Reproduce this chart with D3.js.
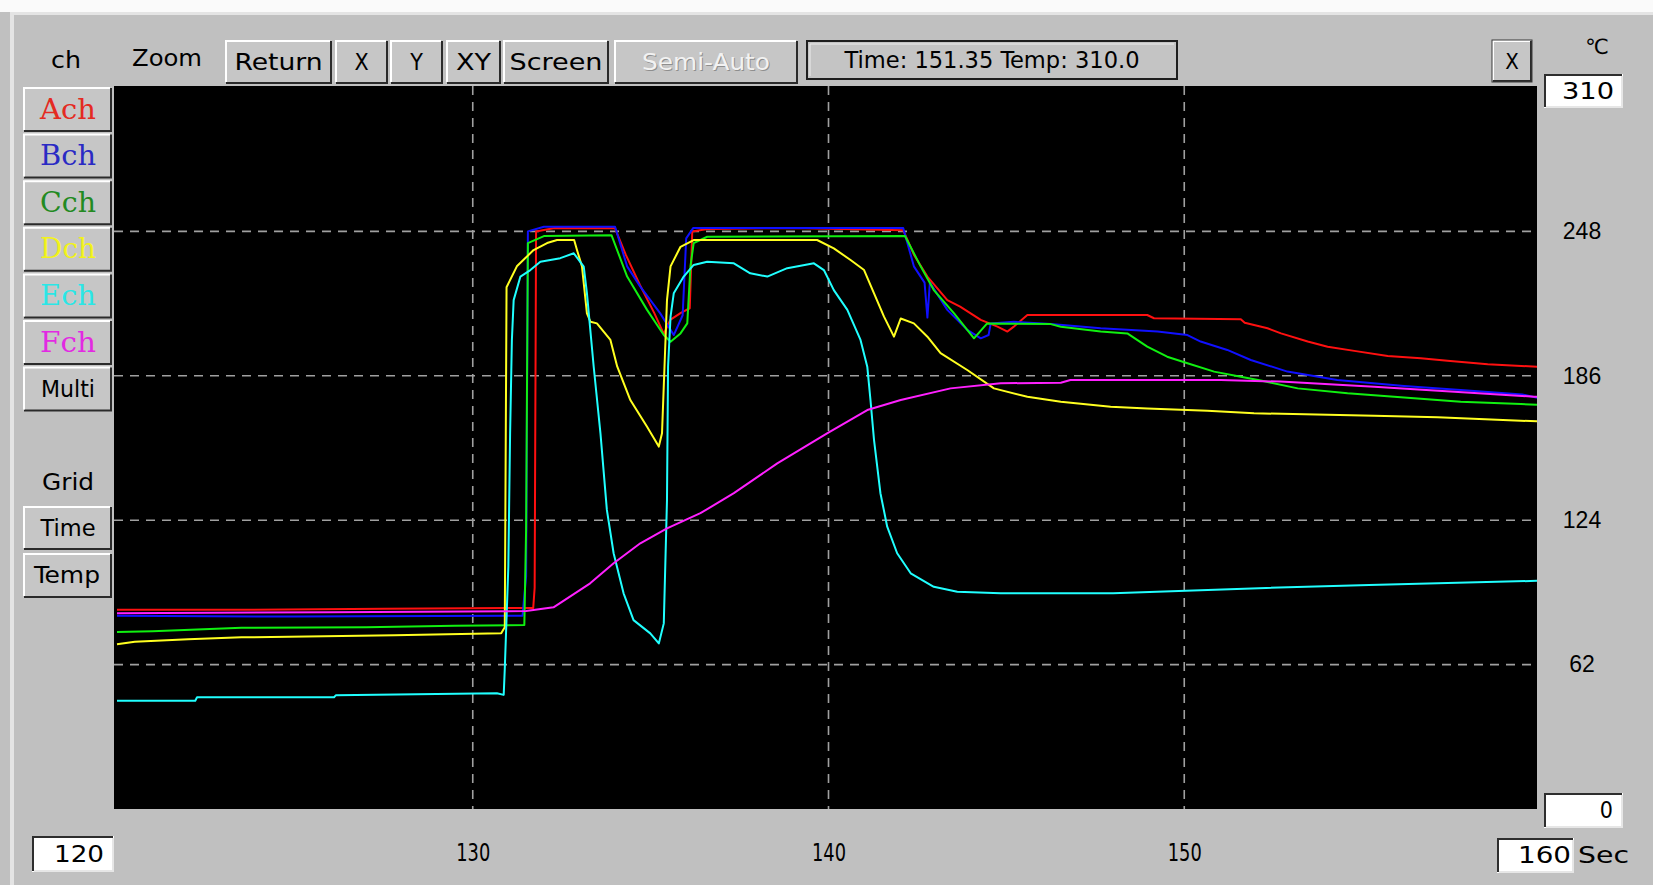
<!DOCTYPE html>
<html>
<head>
<meta charset="utf-8">
<script src="https://cdn.jsdelivr.net/npm/d3@7"></script>
<style>
  html, body { margin: 0; padding: 0; background: #c0c0c0; overflow: hidden; }
  text { font-family: "Liberation Sans Narrow", "DejaVu Sans Condensed", "Liberation Sans", sans-serif; }
</style>
</head>
<body>
<div id="chart"></div>
<script>
const channels = ['Ach', 'Bch', 'Cch', 'Dch', 'Ech', 'Fch'];
const lineColors = ['#ff1010', '#1010ff', '#10f010', '#ffff20', '#20ffff', '#ff20ff'];
const labelColors = ['#e42a22', '#2a2ac4', '#228a22', '#f2f21a', '#2ae6e6', '#e22ae2'];
const timeTicks = [130, 140, 150];
const tempTicks = [62, 124, 186, 248];
const timeRange = [120, 160];
const tempRange = [0, 310];
const infoText = 'Time: 151.35 Temp: 310.0';

// [time (s), temp (C)]
const achData = [[120, 85.5], [123, 85.5], [127.5, 86], [131.7, 86.3], [131.74, 95], [131.78, 248], [132.3, 249.5],
  [134.0, 249.3], [134.3, 238], [134.7, 225], [135.1, 213], [135.37, 204], [135.55, 210], [135.85, 213], [136.1, 215],
  [136.17, 248], [136.6, 249], [139, 249.5], [142.1, 248.5], [142.4, 238], [142.78, 228.6], [143.34, 218.5],
  [143.7, 215.7], [144.28, 210], [144.75, 207.1], [145.03, 205], [145.2, 207], [145.59, 212.1], [148.96, 212.1],
  [149.15, 210.7], [151.59, 210.3], [151.7, 208.8], [152.34, 206.4], [152.72, 204.2], [153.47, 200.7], [154.03, 198.5],
  [154.78, 196.7], [155.72, 194.5], [156.65, 193.5], [157.4, 192.5], [158.53, 191], [160, 189.8]];

const bchData = [[120, 83], [125, 82.6], [131.4, 83], [131.5, 100], [131.55, 248], [132.0, 250], [134.0, 250],
  [134.34, 233], [134.71, 224.3], [135.27, 212.8], [135.65, 203.5], [135.9, 212], [136.0, 245], [136.2, 249.5],
  [142.1, 249.5], [142.4, 233], [142.7, 226], [142.78, 211], [142.85, 226], [143.34, 214.3], [143.9, 205.7],
  [144.28, 202.1], [144.5, 203.5], [144.56, 208.5], [145.21, 209.2], [146.25, 208.2], [147.65, 206.4], [149.25, 205],
  [150.09, 203.5], [150.46, 200.7], [151.21, 197.1], [151.87, 192.8], [152.9, 187.8], [154.3, 184.2], [156.18, 181.6],
  [157.77, 179.9], [159.5, 178], [160, 176.3]];

const cchData = [[120, 76], [121, 76.3], [123.5, 77.8], [127, 78], [129.5, 78.7], [131.45, 79], [131.5, 120],
  [131.55, 243], [132.0, 246], [133.9, 246.4], [134.34, 228.6], [134.9, 214.3], [135.37, 203.5], [135.56, 200.6],
  [135.84, 204.2], [136.03, 208.5], [136.12, 233], [136.21, 243], [136.59, 245.7], [142.15, 246], [142.59, 233],
  [142.96, 222.8], [143.53, 212.8], [144.09, 202.1], [144.46, 208.5], [146.25, 208.2], [146.53, 207.1], [147.65, 205],
  [148.4, 204.2], [148.96, 198.5], [149.52, 194.2], [150.09, 191.4], [150.84, 187.8], [151.59, 185.6], [152.15, 184],
  [153.19, 180.6], [154.59, 178.5], [155.9, 177], [157.77, 174.9], [159.46, 173.9], [160, 173.5]];

const dchData = [[120, 70.7], [120.5, 71.8], [122, 72.9], [123.5, 73.7], [127.8, 74.6], [130.8, 75.5], [130.9, 78],
  [130.95, 224], [131.24, 233], [131.71, 240], [132.09, 243], [132.37, 244.3], [132.85, 244.3], [132.93, 240],
  [133.07, 233], [133.21, 212.8], [133.31, 209.2], [133.49, 208.5], [133.87, 201.4], [134.06, 190], [134.43, 175.6],
  [134.9, 164.1], [135.23, 155.6], [135.32, 161.3], [135.46, 218.5], [135.56, 233], [135.84, 241.4], [136.21, 244.3],
  [139.68, 244.3], [140.15, 240.7], [140.62, 235.7], [141.0, 231.4], [141.28, 221.4], [141.56, 211.4], [141.84, 202.8],
  [142.03, 210.6], [142.4, 208.5], [142.78, 202.8], [143.15, 195.7], [143.9, 188.5], [144.65, 180.6], [145.59, 177],
  [146.53, 174.9], [147.93, 172.7], [148.96, 172], [150.65, 171], [151.96, 169.9], [155.34, 168.9], [157.12, 168.2],
  [159.46, 166.7], [160, 166.5]];

const echData = [[120, 46.5], [122.2, 46.5], [122.25, 48], [126.1, 48], [126.15, 48.8], [130.68, 49.7], [130.87, 49],
  [130.9, 60], [131.0, 104], [131.05, 161.3], [131.1, 201.4], [131.15, 218.5], [131.34, 228.6], [131.62, 231.4],
  [131.9, 235], [132.46, 236.5], [132.84, 238.6], [133.12, 232.9], [133.21, 221.4], [133.4, 189.9], [133.59, 161.3],
  [133.77, 128.4], [133.96, 109.8], [134.24, 92.6], [134.52, 81.1], [134.99, 75.4], [135.23, 71.1], [135.37, 79.7],
  [135.46, 132.7], [135.49, 189.9], [135.56, 211.4], [135.65, 221.4], [135.93, 228.6], [136.21, 233.6], [136.59, 235],
  [137.34, 234.3], [137.8, 230], [138.28, 228.6], [138.84, 232.2], [139.59, 234.3], [139.87, 231.4], [140.15, 222.8],
  [140.53, 214.3], [140.9, 201.4], [141.09, 189.9], [141.18, 175.6], [141.28, 158.4], [141.46, 135.6], [141.65, 121.2],
  [141.93, 109.8], [142.31, 101.2], [142.96, 95.4], [143.62, 93.3], [144.84, 92.6], [148, 92.6], [152.3, 94.9],
  [155.2, 96.2], [160, 98]];

const fchData = [[120, 84], [126, 84.5], [131.5, 85], [132.27, 86.6], [133.3, 96.9], [133.96, 105.5], [134.71, 114.1],
  [135.46, 120.5], [136.4, 127], [137.34, 135.6], [138.56, 148.4], [139.96, 161.3], [141.09, 171.3], [142.03, 175.6],
  [143.43, 180.6], [144.84, 182.8], [146.53, 183], [146.8, 184.2], [151.03, 184.2], [152.7, 183.5], [155.34, 181.3],
  [157.59, 179.2], [159.84, 177], [160, 177]];

const series = [achData, bchData, cchData, dchData, echData, fchData];

const W = 1653, H = 885;
const plot = { left: 114, right: 1537, top: 86, bottom: 809 };

const svg = d3.select('#chart').append('svg')
    .attr('width', W)
    .attr('height', H);

// window chrome
svg.append('rect').attr('width', W).attr('height', H).attr('fill', '#c0c0c0');
svg.append('rect').attr('width', W).attr('height', 12).attr('fill', '#fafafa');
svg.append('rect').attr('x', 10).attr('y', 12).attr('width', W - 10).attr('height', 3).attr('fill', '#e4e4e4');
svg.append('rect').attr('x', 10).attr('y', 12).attr('width', 4).attr('height', H - 12).attr('fill', '#e4e4e4');

const label = (g, str, cx, cy, o = {}) => {
    const t = g.append('text')
        .attr('x', cx)
        .attr('y', cy)
        .attr('dominant-baseline', 'central')
        .attr('text-anchor', o.anchor || 'middle')
        .attr('font-size', o.size || 23)
        .attr('fill', o.color || '#000')
        .text(str);
    if (o.family) t.style('font-family', o.family);
    if (o.width) t.attr('textLength', o.width).attr('lengthAdjust', 'spacingAndGlyphs');
    return t;
};

const raised = (g, x0, y0, w, h) => {
    g.append('rect').attr('x', x0).attr('y', y0).attr('width', w).attr('height', h).attr('fill', '#c6c6c6');
    g.append('path')
        .attr('d', `M${x0 + 1},${y0 + h - 1}H${x0 + w - 1}V${y0 + 1}`)
        .attr('fill', 'none').attr('stroke', '#2a2a2a').attr('stroke-width', 2);
    g.append('path')
        .attr('d', `M${x0 + 1},${y0 + h - 2}V${y0 + 1}H${x0 + w - 2}`)
        .attr('fill', 'none').attr('stroke', '#ffffff').attr('stroke-width', 2);
};

const sunken = (g, x0, y0, w, h) => {
    g.append('rect').attr('x', x0).attr('y', y0).attr('width', w).attr('height', h).attr('fill', '#ffffff');
    g.append('path')
        .attr('d', `M${x0 + 1},${y0 + h - 1}V${y0 + 1}H${x0 + w - 1}`)
        .attr('fill', 'none').attr('stroke', '#2e2e2e').attr('stroke-width', 2);
    g.append('path')
        .attr('d', `M${x0 + 2},${y0 + h - 1}H${x0 + w - 1}V${y0 + 2}`)
        .attr('fill', 'none').attr('stroke', '#e6e6e6').attr('stroke-width', 2);
};

const ui = svg.append('g');

// top toolbar
label(ui, 'ch', 66, 60, { width: 30 });
label(ui, 'Zoom', 167, 58, { width: 70 });
const toolButtons = [['Return', 225, 332, 88], ['X', 335, 388, 0], ['Y', 390, 443, 0], ['XY', 446, 501, 35],
    ['Screen', 503, 609, 93], ['Semi-Auto', 614, 798, 128]];
toolButtons.forEach(([name, x0, x1, tw]) => {
    raised(ui, x0, 40, x1 - x0, 44);
    const cx = (x0 + x1) / 2;
    if (name === 'Semi-Auto') {
        label(ui, name, cx + 1, 63, { width: tw, color: '#8e8e8e' });
        label(ui, name, cx, 62, { width: tw, color: '#f2f2f2' });
    } else {
        label(ui, name, cx, 62, tw ? { width: tw } : {});
    }
});

ui.append('rect').attr('x', 807).attr('y', 41).attr('width', 370).attr('height', 38)
    .attr('fill', '#c4c4c4').attr('stroke', '#1e1e1e').attr('stroke-width', 2);
ui.append('path').attr('d', 'M810,76V44H1174').attr('fill', 'none').attr('stroke', '#ececec').attr('stroke-width', 1);
label(ui, infoText, 992, 60, { width: 295 });

raised(ui, 1492, 40, 40, 42);
ui.append('rect').attr('x', 1492).attr('y', 40).attr('width', 40).attr('height', 42)
    .attr('fill', 'none').attr('stroke', '#3a3a3a').attr('stroke-width', 1);
label(ui, 'X', 1512, 61, { size: 22 });

label(ui, '\u2103', 1597, 47, { size: 21, family: 'DejaVu Sans' });
sunken(ui, 1544, 74, 79, 34);
label(ui, '310', 1614, 91, { anchor: 'end', width: 52 });

// channel buttons
const leftButtons = channels.concat(['Multi']);
leftButtons.forEach((name, i) => {
    const y0 = 87 + i * 46.6;
    raised(ui, 23, y0, 89, 45);
    if (i < channels.length) {
        label(ui, name, 68, y0 + 22, { size: 27, color: labelColors[i], family: '"DejaVu Serif", "Liberation Serif", serif', width: 56 });
    } else {
        label(ui, name, 68, y0 + 22, { size: 23, width: 54 });
    }
});
label(ui, 'Grid', 68, 482, { width: 52 });
raised(ui, 23, 506, 89, 44);
label(ui, 'Time', 68, 528, { width: 55 });
raised(ui, 23, 553, 89, 45);
label(ui, 'Temp', 67, 575, { width: 66 });

// bottom boxes
sunken(ui, 32, 836, 82, 36);
label(ui, '120', 104, 854, { anchor: 'end', width: 50 });
sunken(ui, 1544, 793, 79, 35);
label(ui, '0', 1613, 810, { anchor: 'end' });
sunken(ui, 1497, 838, 77, 35);
label(ui, '160', 1571, 855, { anchor: 'end', width: 53 });
label(ui, 'Sec', 1578, 855, { anchor: 'start', width: 51 });

// plot
const x = d3.scaleLinear().domain(timeRange).range([117, 1540]);
const y = d3.scaleLinear().domain(tempRange).range([809, 87]);

svg.append('defs').append('clipPath').attr('id', 'plotClip')
    .append('rect')
    .attr('x', plot.left).attr('y', plot.top)
    .attr('width', plot.right - plot.left).attr('height', plot.bottom - plot.top);

svg.append('rect')
    .attr('x', plot.left).attr('y', plot.top)
    .attr('width', plot.right - plot.left).attr('height', plot.bottom - plot.top)
    .attr('fill', '#000');

const grid = svg.append('g').attr('clip-path', 'url(#plotClip)');
grid.selectAll('.vgrid')
    .data(timeTicks)
    .enter().append('line')
    .attr('class', 'vgrid')
    .attr('x1', d => x(d)).attr('x2', d => x(d))
    .attr('y1', plot.top).attr('y2', plot.bottom)
    .attr('stroke', '#a0a0a0').attr('stroke-width', 1.6).attr('stroke-dasharray', '9,7');
grid.selectAll('.hgrid')
    .data(tempTicks)
    .enter().append('line')
    .attr('class', 'hgrid')
    .attr('x1', plot.left).attr('x2', plot.right)
    .attr('y1', d => y(d)).attr('y2', d => y(d))
    .attr('stroke', '#a0a0a0').attr('stroke-width', 1.6).attr('stroke-dasharray', '9,7');

const line = d3.line()
    .x(d => x(d[0]))
    .y(d => y(d[1]));

svg.append('g').attr('clip-path', 'url(#plotClip)')
    .selectAll('.trace')
    .data(series)
    .enter().append('path')
    .attr('class', 'trace')
    .attr('d', line)
    .attr('fill', 'none')
    .attr('stroke', (d, i) => lineColors[i])
    .attr('stroke-width', 2)
    .attr('stroke-linejoin', 'round');

// axes labels
svg.append('g')
    .attr('transform', `translate(0,${plot.bottom})`)
    .call(d3.axisBottom(x).tickValues(timeTicks).tickSize(0).tickPadding(34))
    .call(g => g.select('.domain').remove())
    .selectAll('text')
    .attr('font-size', 25)
    .attr('fill', '#000')
    .attr('textLength', 34)
    .attr('lengthAdjust', 'spacingAndGlyphs');

svg.append('g')
    .attr('transform', 'translate(1582,0)')
    .call(d3.axisRight(y).tickValues(tempTicks).tickSize(0).tickPadding(0))
    .call(g => g.select('.domain').remove())
    .selectAll('text')
    .attr('font-size', 23)
    .attr('fill', '#000')
    .attr('text-anchor', 'middle')
    .style('font-family', '"Liberation Sans", Arial, sans-serif');
</script>
</body>
</html>
